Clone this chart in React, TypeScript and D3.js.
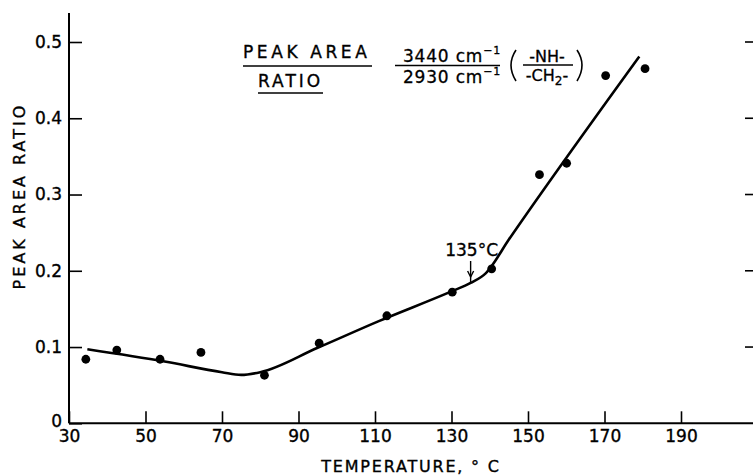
import * as d3 from 'd3';
import React, { useEffect, useRef } from 'react';

// measured points: temperature (°C) and peak area ratio
const temps = [34.4, 42.5, 53.8, 64.5, 81.1, 95.4, 113.1, 130.2, 140.5, 153.0, 160.1, 170.3, 180.6];
const ratios = [0.084, 0.096, 0.084, 0.093, 0.063, 0.105, 0.141, 0.172, 0.2025, 0.326, 0.341, 0.456, 0.465];

// hand-drawn fit line vertices
const fitTemps = [34.8, 55, 70, 75, 80, 95, 111, 130, 135, 139, 145, 179.1];
const fitRatios = [0.097, 0.081, 0.067, 0.0635, 0.067, 0.099, 0.134, 0.173, 0.184, 0.197, 0.241, 0.481];

const xTicks = [30, 50, 70, 90, 110, 130, 150, 170, 190];
const yTicks = [0, 0.1, 0.2, 0.3, 0.4, 0.5];

const transitionTemp = 135;
const transitionRatio = 0.184;

const FONT = "'DejaVu Sans', sans-serif";

export default function App() {
    const width = 753;
    const height = 476;
    const ref = useRef<SVGSVGElement>(null);

    useEffect(() => {
        const svg = d3.select(ref.current);
        svg.selectAll('*').remove();

        const x = d3.scaleLinear().domain([30, 190]).range([69, 681]);
        const y = d3.scaleLinear().domain([0, 0.5]).range([423.3, 42]);
        const x0 = x.range()[0];
        const y0 = y.range()[0];

        // axis lines (left axis runs a bit past 0.5, bottom axis to the edge)
        svg.append('line').attr('x1', x0).attr('x2', x0).attr('y1', 13).attr('y2', y0)
            .attr('stroke', '#000').attr('stroke-width', 2);
        svg.append('line').attr('x1', x0).attr('x2', width).attr('y1', y0).attr('y2', y0)
            .attr('stroke', '#000').attr('stroke-width', 2);

        const xAxis = d3.axisBottom(x).tickValues(xTicks).tickSize(-12).tickPadding(7)
            .tickFormat((d) => String(d));
        const gx = svg.append('g').attr('transform', `translate(0,${y0})`).call(xAxis);
        gx.select('.domain').remove();
        gx.selectAll('line').attr('stroke-width', 1.6);
        gx.selectAll('text').attr('font-family', FONT).attr('font-size', 17).attr('fill', '#000')
            .attr('stroke', '#000').attr('stroke-width', 0.35);

        const yAxis = d3.axisLeft(y).tickValues(yTicks).tickSize(-13).tickPadding(7)
            .tickFormat((d) => (d === 0 ? '0' : d3.format('.1f')(d as number)));
        const gy = svg.append('g').attr('transform', `translate(${x0},0)`).call(yAxis);
        gy.select('.domain').remove();
        gy.selectAll('line').attr('stroke-width', 1.6);
        gy.selectAll('text').attr('font-family', FONT).attr('font-size', 17).attr('fill', '#000')
            .attr('stroke', '#000').attr('stroke-width', 0.35);
        gy.selectAll('.tick').filter((d) => d === 0).select('text').attr('dy', '0.2em');

        // right-hand frame ticks (frame itself is just off the page)
        const gr = svg.append('g');
        gr.selectAll('line').data(yTicks.filter((d) => d > 0)).join('line')
            .attr('x1', width - 8).attr('x2', width)
            .attr('y1', (d) => y(d)).attr('y2', (d) => y(d))
            .attr('stroke', '#000').attr('stroke-width', 1.6);

        // fit line
        const fit = fitTemps.map((t, i) => [t, fitRatios[i]] as [number, number]);
        const line = d3.line<[number, number]>()
            .x((d) => x(d[0])).y((d) => y(d[1]))
            .curve(d3.curveMonotoneX);
        svg.append('path').attr('d', line(fit)).attr('fill', 'none')
            .attr('stroke', '#000').attr('stroke-width', 2.6);

        // points
        svg.append('g').selectAll('circle').data(temps).join('circle')
            .attr('cx', (d) => x(d)).attr('cy', (d, i) => y(ratios[i]))
            .attr('r', 4.4).attr('fill', '#000');

        // 135 °C annotation
        const ax = x(transitionTemp);
        const ay = y(transitionRatio);
        svg.append('text').attr('x', ax + 1).attr('y', ay - 27).attr('text-anchor', 'middle')
            .attr('font-family', FONT).attr('font-size', 17)
            .attr('stroke', '#000').attr('stroke-width', 0.35).text('135°C');
        svg.append('line').attr('x1', ax).attr('x2', ax).attr('y1', ay - 22).attr('y2', ay)
            .attr('stroke', '#000').attr('stroke-width', 1.4);
        svg.append('path')
            .attr('d', `M${ax - 3},${ay - 12} L${ax},${ay - 6} L${ax + 3},${ay - 12}`)
            .attr('fill', 'none').attr('stroke', '#000').attr('stroke-width', 1.4);

        // axis titles
        svg.append('text').attr('x', 411).attr('y', 472).attr('text-anchor', 'middle')
            .attr('font-family', FONT).attr('font-size', 16).attr('letter-spacing', 1.8)
            .attr('stroke', '#000').attr('stroke-width', 0.35)
            .text('TEMPERATURE, ° C');
        svg.append('text').attr('transform', 'translate(25,196) rotate(-90)')
            .attr('text-anchor', 'middle')
            .attr('font-family', FONT).attr('font-size', 16).attr('letter-spacing', 3)
            .attr('stroke', '#000').attr('stroke-width', 0.35)
            .text('PEAK AREA RATIO');

        // title block
        const title = svg.append('g').attr('font-family', FONT).attr('fill', '#000');
        title.append('text').attr('x', 243).attr('y', 58).attr('font-size', 17)
            .attr('stroke', '#000').attr('stroke-width', 0.35)
            .attr('letter-spacing', 3.6).text('PEAK AREA');
        title.append('line').attr('x1', 243).attr('x2', 372).attr('y1', 66).attr('y2', 66)
            .attr('stroke', '#000').attr('stroke-width', 1.6);
        title.append('text').attr('x', 258).attr('y', 87).attr('font-size', 17)
            .attr('stroke', '#000').attr('stroke-width', 0.35)
            .attr('letter-spacing', 3).text('RATIO');
        title.append('line').attr('x1', 258).attr('x2', 323).attr('y1', 93).attr('y2', 93)
            .attr('stroke', '#000').attr('stroke-width', 1.6);

        const num = title.append('text').attr('x', 403).attr('y', 62).attr('font-size', 17)
            .attr('stroke', '#000').attr('stroke-width', 0.3).attr('letter-spacing', 0.8);
        num.append('tspan').text('3440 cm');
        num.append('tspan').attr('font-size', 11).attr('dy', -8).text('−1');
        title.append('line').attr('x1', 395).attr('x2', 500).attr('y1', 65.5).attr('y2', 65.5)
            .attr('stroke', '#000').attr('stroke-width', 1.4);
        const den = title.append('text').attr('x', 403).attr('y', 83).attr('font-size', 17)
            .attr('stroke', '#000').attr('stroke-width', 0.3).attr('letter-spacing', 0.8);
        den.append('tspan').text('2930 cm');
        den.append('tspan').attr('font-size', 11).attr('dy', -8).text('−1');

        title.append('path').attr('d', 'M516,50 Q506,65 516,81').attr('fill', 'none')
            .attr('stroke', '#000').attr('stroke-width', 1.6);
        title.append('path').attr('d', 'M577,50 Q587,65 577,81').attr('fill', 'none')
            .attr('stroke', '#000').attr('stroke-width', 1.6);
        title.append('text').attr('x', 547).attr('y', 62).attr('text-anchor', 'middle')
            .attr('stroke', '#000').attr('stroke-width', 0.3)
            .attr('font-size', 16).text('-NH-');
        title.append('line').attr('x1', 523).attr('x2', 573).attr('y1', 65).attr('y2', 65)
            .attr('stroke', '#000').attr('stroke-width', 1.4);
        const ch = title.append('text').attr('x', 547).attr('y', 81).attr('text-anchor', 'middle')
            .attr('stroke', '#000').attr('stroke-width', 0.3).attr('font-size', 16);
        ch.append('tspan').text('-CH');
        ch.append('tspan').attr('font-size', 12).attr('dy', 4).text('2');
        ch.append('tspan').attr('dy', -4).text('-');
    }, []);

    return (
        <div style={{ position: 'absolute', left: 0, top: 0 }}>
            <svg ref={ref} width={width} height={height} style={{ display: 'block', background: '#fff' }} />
        </div>
    );
}
